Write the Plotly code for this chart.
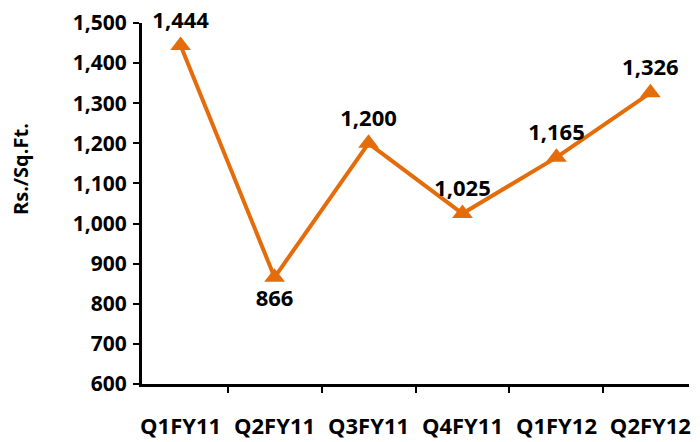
import plotly.graph_objects as go

categories = ["Q1FY11", "Q2FY11", "Q3FY11", "Q4FY11", "Q1FY12", "Q2FY12"]
values = [1444, 866, 1200, 1025, 1165, 1326]
label_pos = ["top center", "bottom center", "top center", "top center", "top center", "top center"]
y_ticks = [600, 700, 800, 900, 1000, 1100, 1200, 1300, 1400, 1500]

orange = "#E46C0A"
font_family = "Open Sans"

fig = go.Figure()
fig.add_trace(go.Scatter(
    x=categories, y=values,
    mode="lines+markers+text",
    line=dict(color=orange, width=4),
    marker=dict(symbol="triangle-up", size=18, color=orange),
    text=[f"{v:,}" for v in values],
    textposition=label_pos,
    textfont=dict(family=font_family, size=22, color="black", weight="bold"),
    cliponaxis=False,
    showlegend=False,
))

fig.update_layout(
    width=700, height=442,
    margin=dict(l=134, r=19, t=15, b=66, autoexpand=False),
    paper_bgcolor="white", plot_bgcolor="white",
    font=dict(family=font_family, color="black"),
    xaxis=dict(
        showline=True, linecolor="black", linewidth=3,
        ticks="outside", ticklen=6, tickcolor="black", tickwidth=2,
        tickson="boundaries", tickangle=0,
        tickfont=dict(family=font_family, size=22, color="black", weight="bold"),
        ticklabelstandoff=21, automargin=False,
        showgrid=False, zeroline=False,
    ),
    yaxis=dict(
        range=[600, 1500],
        tickvals=y_ticks,
        ticktext=[f"{v:,}" for v in y_ticks],
        showline=True, linecolor="black", linewidth=3,
        ticks="outside", ticklen=6, tickcolor="black", tickwidth=2,
        tickfont=dict(family=font_family, size=21, color="black", weight="bold"),
        ticklabelstandoff=2, automargin=False,
        showgrid=False, zeroline=False,
    ),
    annotations=[dict(
        text="Rs./Sq.Ft.", xref="paper", yref="paper", x=0, y=1 - (161 - 23) / (384 - 23),
        xanchor="center", yanchor="middle", xshift=-122, yshift=-8, textangle=-90, showarrow=False,
        font=dict(family=font_family, size=20, color="black", weight="bold"),
    )],
)

fig.write_html("out.html")
